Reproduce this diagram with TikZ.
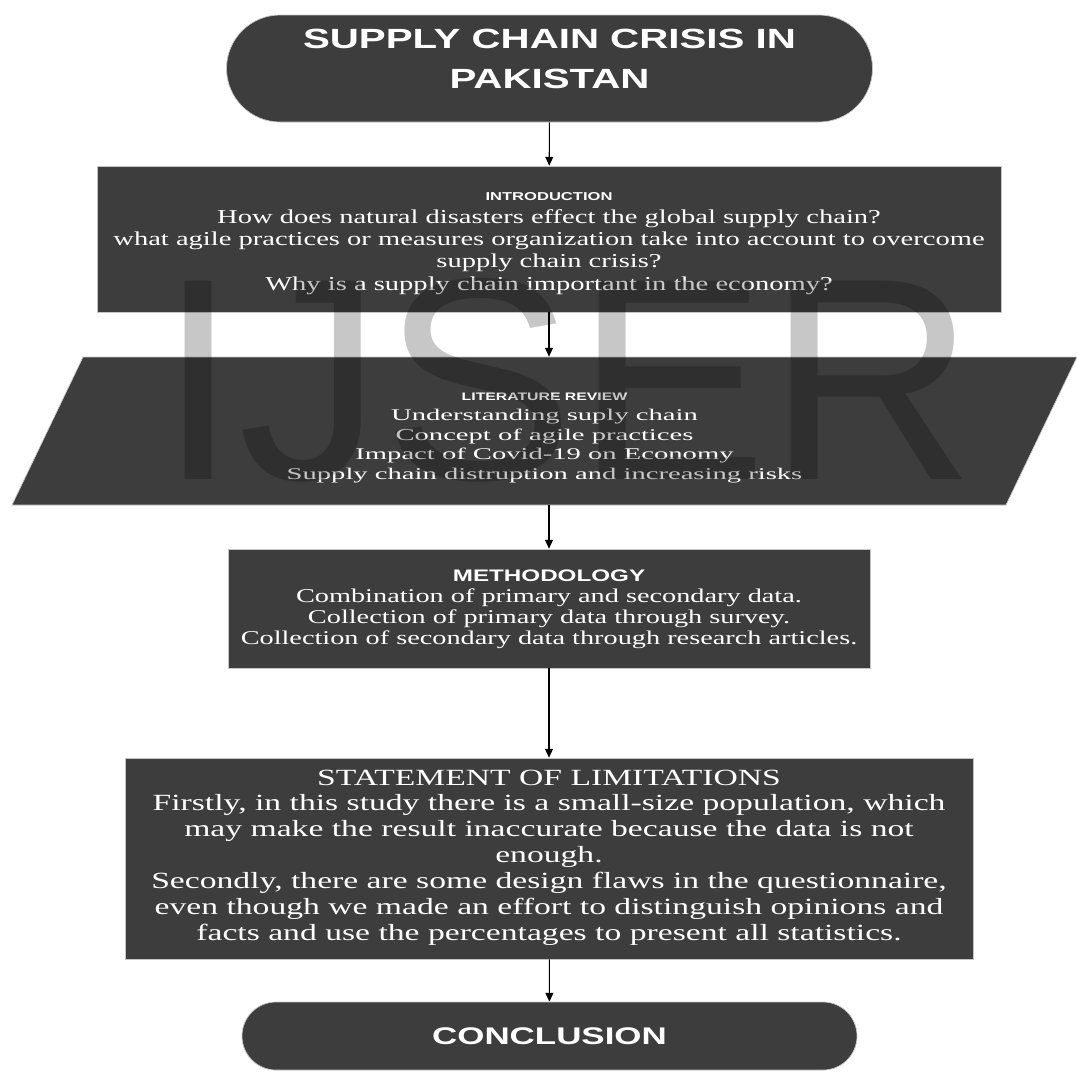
\documentclass[tikz,border=0pt]{standalone}
\usepackage{fontspec}
\setmainfont[FakeStretch=1.45]{Liberation Serif}
\newfontfamily\litserif[FakeStretch=1.75]{Liberation Serif}
\newfontfamily\headsans[FakeStretch=1.45]{Liberation Sans}
\newfontfamily\marksans{Liberation Sans}
\usetikzlibrary{shapes.geometric,shapes.misc,arrows.meta,positioning}

\definecolor{boxgray}{HTML}{3D3D3D}

\begin{document}
\begin{tikzpicture}[
    term/.style={draw=gray!45, fill=boxgray, rounded rectangle, text=white,
        align=center, inner sep=0pt},
    box/.style={draw=gray!45, fill=boxgray, rectangle, text=white,
        align=center, inner sep=0pt, text depth=0pt},
    para/.style={draw=gray!45, fill=boxgray, trapezium, trapezium left angle=53.5,
        trapezium right angle=126.5, trapezium stretches body, text=white,
        align=center, inner sep=0pt, text depth=0pt},
    head/.style={font=\headsans\bfseries\fontsize{#1}{#1}\selectfont},
    arrow/.style={-{Triangle[length=5pt,width=4.5pt]}, line width=0.6pt},
]
\useasboundingbox (0,0) rectangle (21.54,-21.52);

% Title
\node[term, minimum width=12.92cm, minimum height=2.14cm, text depth=0.4cm,
    font=\headsans\bfseries\fontsize{15.8}{22.7}\selectfont] (title) at (10.99, -1.37)
    {SUPPLY CHAIN CRISIS IN\\PAKISTAN};

% Introduction
\node[box, minimum width=18.08cm, minimum height=2.92cm, text height=2.04cm,
    font=\fontsize{11.2}{12.7}\selectfont] (intro) at (10.98, -4.78)
    {{\headsans\bfseries\fontsize{6.5}{12.7}\selectfont INTRODUCTION}\\
     How does natural disasters effect the global supply chain?\\
     what agile practices or measures organization take into account to overcome\\
     supply chain crisis?\\
     Why is a supply chain important in the economy?};

% Literature review
\node[para, minimum width=21.3cm, minimum height=2.96cm, text height=1.92cm,
    font=\litserif\fontsize{9.3}{11.1}\selectfont] (lit) at (10.89, -8.62)
    {{\headsans\bfseries\fontsize{6.2}{11.1}\selectfont LITERATURE REVIEW}\\
     Understanding suply chain\\
     Concept of agile practices\\
     Impact of Covid-19 on Economy\\
     Supply chain distruption and increasing risks};

% Methodology
\node[box, minimum width=12.84cm, minimum height=2.38cm, text height=1.42cm,
    font=\fontsize{11.1}{11.9}\selectfont] (method) at (10.98, -12.17)
    {{\headsans\bfseries\fontsize{9.5}{11.9}\selectfont METHODOLOGY}\\
     Combination of primary and secondary data.\\
     Collection of primary data through survey.\\
     Collection of secondary data through research articles.};

% Limitations
\node[box, minimum width=16.96cm, minimum height=4.02cm, text height=3.26cm,
    font=\fontsize{13.2}{14.7}\selectfont] (limits) at (10.98, -17.17)
    {STATEMENT OF LIMITATIONS\\
     Firstly, in this study there is a small-size population, which\\
     may make the result inaccurate because the data is not\\
     enough.\\
     Secondly, there are some design flaws in the questionnaire,\\
     even though we made an effort to distinguish opinions and\\
     facts and use the percentages to present all statistics.};

% Conclusion
\node[term, minimum width=12.3cm, minimum height=1.36cm,
    head=13.7] (concl) at (10.99, -20.72) {CONCLUSION};

% Arrows
\draw[arrow] (title) -- (intro);
\draw[arrow] (intro) -- (intro |- lit.north);
\draw[arrow] (method |- lit.south) -- (method);
\draw[arrow] (method) -- (limits);
\draw[arrow] (limits) -- (concl);

% Watermark
\node[font=\marksans\fontsize{164}{164}\selectfont, text=black, text opacity=0.22,
    inner sep=0pt] (mark) at (11.34, -7.6) {IJSER};

\end{tikzpicture}
\end{document}
